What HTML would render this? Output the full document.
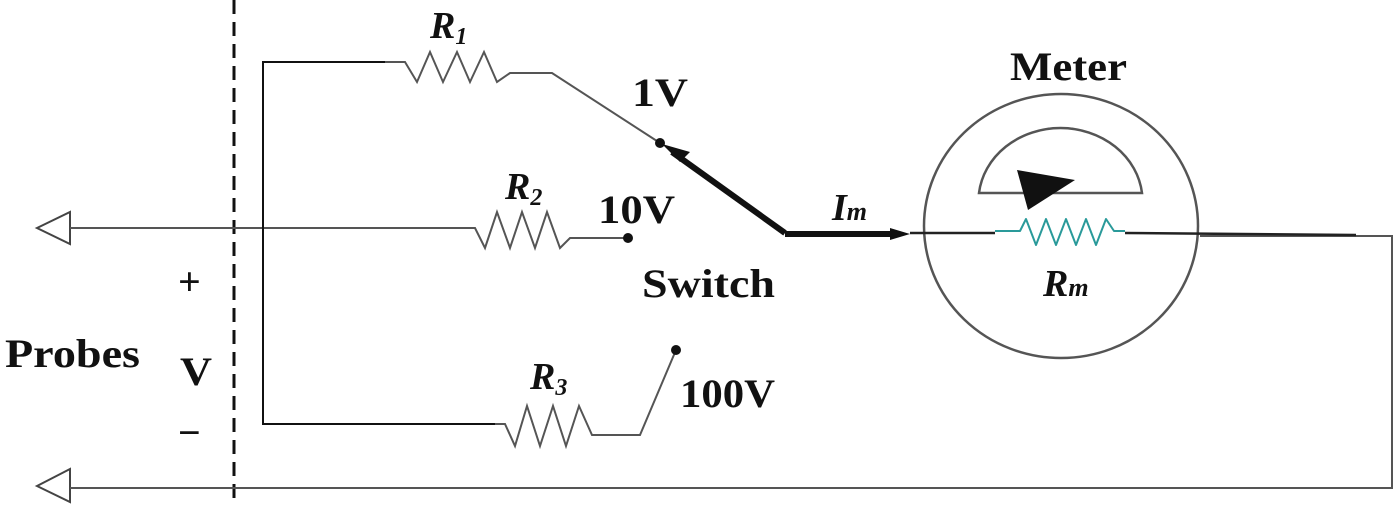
<!DOCTYPE html>
<html><head><style>
html,body{margin:0;padding:0;background:#fff;}
svg{display:block;}
text{font-family:"Liberation Serif",serif;font-weight:bold;fill:#111;}
</style></head><body>
<svg width="1400" height="505" viewBox="0 0 1400 505" xmlns="http://www.w3.org/2000/svg">
<g fill="none" stroke="#555" stroke-width="2">
<line x1="234" y1="0" x2="234" y2="505" stroke="#111" stroke-width="3" stroke-dasharray="14,8"/>
<polygon points="37,228 70,212 70,244" stroke="#444"/>
<polygon points="37,486 70,469 70,502" stroke="#444"/>
<polyline points="70,228 475,228 485,248 497,212 510,248 522,212 535,248 547,212 560,248 570,238 628,238"/>
<polyline points="385,62 263,62 263,424 495,424" stroke="#111"/>
<polyline points="385,62 405,62 417,82 430,52 443,82 457,52 470,82 484,52 497,82 510,73 552,73 660,143"/>
<polyline points="495,424 505,424 515,446 527,406 540,446 553,406 566,446 579,406 592,435 640,435 676,350"/>
<polyline points="70,488 1392,488 1392,236 1200,236"/>
<ellipse cx="1061" cy="226" rx="137" ry="132" stroke-width="2.5"/>
<path d="M979,193 A82,73 0 0 1 1142,193 Z" stroke-width="2.5"/>
<line x1="910" y1="233" x2="995" y2="233" stroke="#222" stroke-width="2.5"/>
<line x1="1125" y1="233" x2="1356" y2="235" stroke="#222" stroke-width="2.5"/>
<path d="M995,231 H1020 L1026,219 L1036,245 L1046,219 L1056,245 L1066,219 L1076,245 L1086,219 L1096,245 L1106,219 L1114,231 H1125" stroke="#2a9a9a" stroke-linejoin="round"/>
</g>
<polygon points="1017,170 1075,180 1028,210" fill="#111"/>
<line x1="672" y1="152" x2="785" y2="233" stroke="#111" stroke-width="6"/>
<polygon points="662,144 690,152 680,162" fill="#111"/>
<line x1="785" y1="234" x2="895" y2="234" stroke="#111" stroke-width="6"/>
<polygon points="910,234 890,228 890,240" fill="#111"/>
<circle cx="660" cy="143" r="5" fill="#111"/>
<circle cx="628" cy="238" r="5" fill="#111"/>
<circle cx="676" cy="350" r="5" fill="#111"/>
<text x="430" y="38" font-size="38" font-style="italic">R<tspan font-size="24" dy="6">1</tspan></text>
<text x="505" y="199" font-size="38" font-style="italic">R<tspan font-size="24" dy="6">2</tspan></text>
<text x="530" y="389" font-size="38" font-style="italic">R<tspan font-size="24" dy="6">3</tspan></text>
<text x="632" y="106" font-size="40" textLength="56" lengthAdjust="spacingAndGlyphs">1V</text>
<text x="598" y="223" font-size="40" textLength="77" lengthAdjust="spacingAndGlyphs">10V</text>
<text x="642" y="297" font-size="40" textLength="133" lengthAdjust="spacingAndGlyphs">Switch</text>
<text x="680" y="407" font-size="40" textLength="95" lengthAdjust="spacingAndGlyphs">100V</text>
<text x="1010" y="80" font-size="40" textLength="117" lengthAdjust="spacingAndGlyphs">Meter</text>
<text x="832" y="220" font-size="38" font-style="italic">I<tspan font-size="26">m</tspan></text>
<text x="1043" y="296" font-size="38" font-style="italic">R<tspan font-size="26">m</tspan></text>
<text x="178" y="295" font-size="40">+</text>
<text x="180" y="385" font-size="40" textLength="32" lengthAdjust="spacingAndGlyphs">V</text>
<text x="178" y="446" font-size="40">−</text>
<text x="5" y="367" font-size="40" textLength="135" lengthAdjust="spacingAndGlyphs">Probes</text>
</svg>
</body></html>
